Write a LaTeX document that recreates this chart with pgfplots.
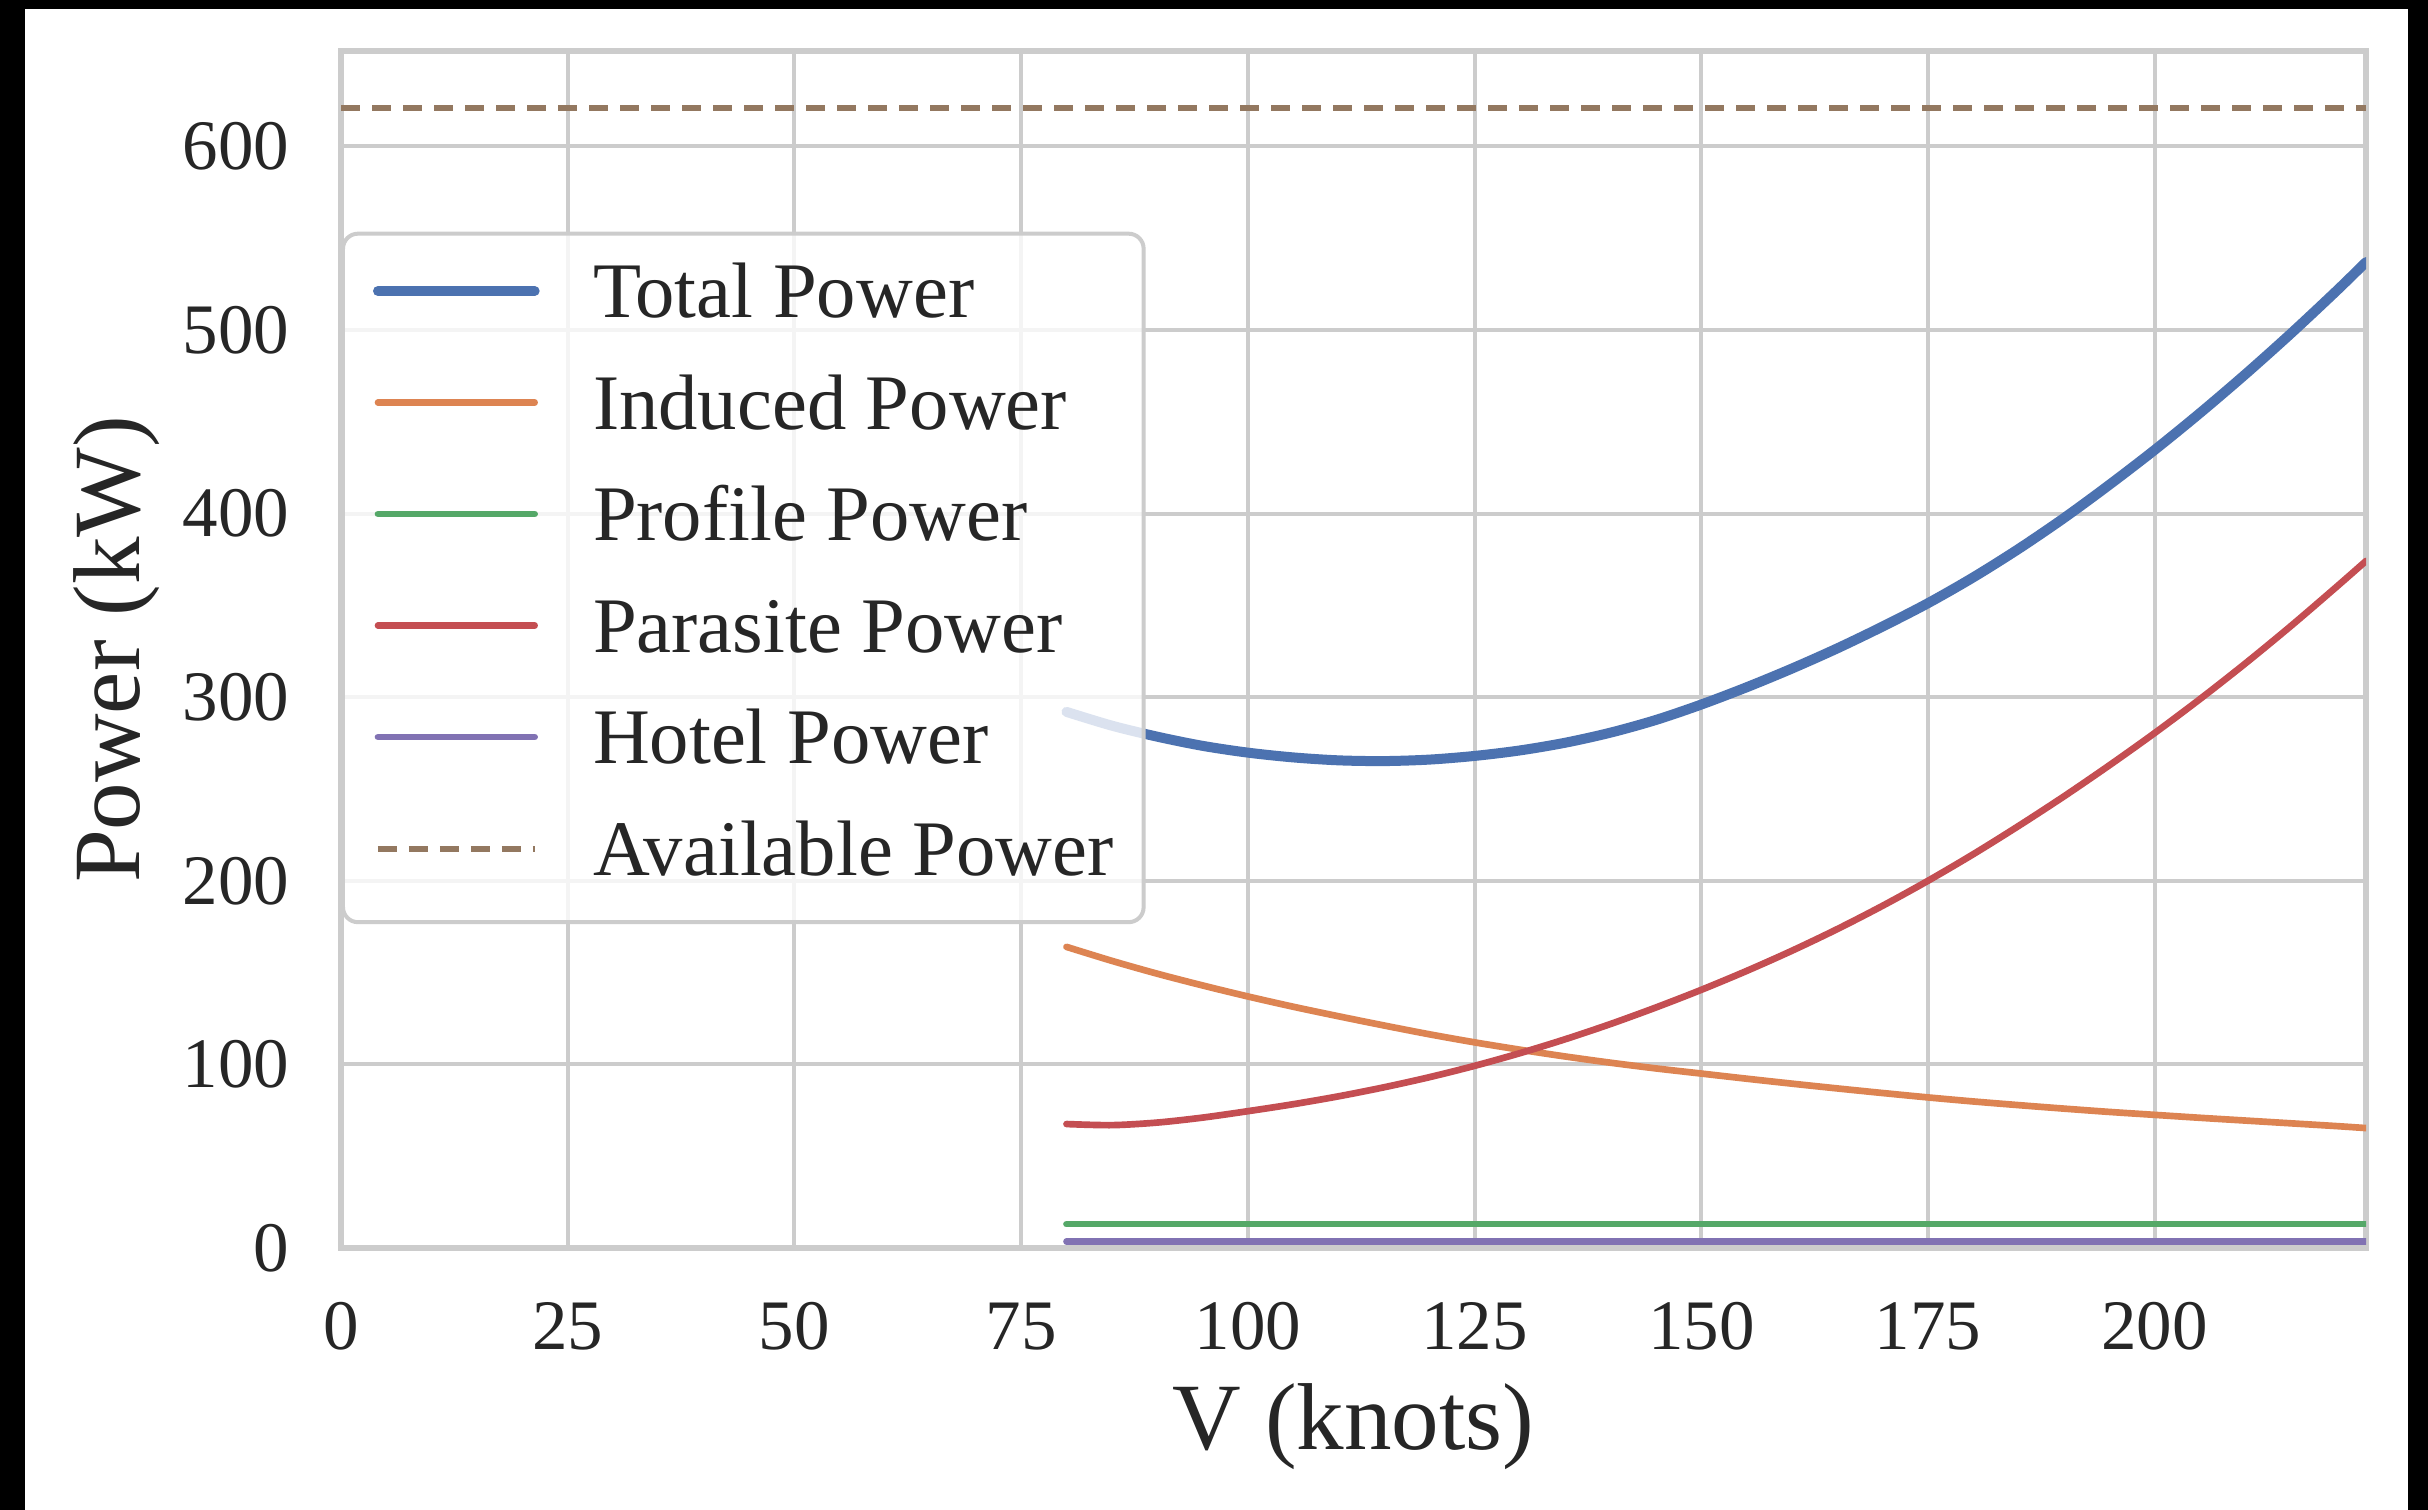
\documentclass[border=0pt]{standalone}
\usepackage{fontspec}
\setmainfont{Liberation Serif}
\usepackage{pgfplots}
\usepackage{pgfplotstable}
\pgfplotsset{compat=1.18}

\definecolor{sbblue}{HTML}{4C72B0}
\definecolor{sborange}{HTML}{DD8452}
\definecolor{sbgreen}{HTML}{55A868}
\definecolor{sbred}{HTML}{C44E52}
\definecolor{sbpurple}{HTML}{8172B3}
\definecolor{sbbrown}{HTML}{937860}
\definecolor{gridgray}{HTML}{CCCCCC}
\definecolor{labelgray}{HTML}{262626}

% power components (kW) against airspeed V (knots)
\pgfplotstableread{
V     total  induced profile parasite hotel
80    292.0  164.0   13      67.5     3.5
85    284.5  156.4   13      66.9     3.5
90    278.5  149.4   13      68.3     3.5
95    273.5  143.0   13      71.0     3.5
100   269.8  137.0   13      74.5     3.5
105   267.2  131.4   13      78.3     3.5
110   265.6  126.2   13      82.6     3.5
115   265.2  121.2   13      87.5     3.5
120   266.0  116.4   13      93.0     3.5
125   268.0  112.0   13      99.2     3.5
130   271.0  108.0   13      106.1    3.5
135   275.2  104.3   13      113.7    3.5
140   280.7  100.9   13      122.0    3.5
145   287.6  97.8    13      131.0    3.5
150   296.0  95.0    13      140.6    3.5
155   305.4  92.2    13      150.9    3.5
160   315.6  89.5    13      161.9    3.5
165   326.6  86.9    13      173.7    3.5
170   338.5  84.4    13      186.4    3.5
175   351.2  82.0    13      200.0    3.5
180   365.3  79.8    13      214.5    3.5
185   380.8  77.8    13      229.9    3.5
190   397.6  75.9    13      246.0    3.5
195   415.7  74.1    13      262.9    3.5
200   434.7  72.5    13      280.5    3.5
205   454.8  70.9    13      299.0    3.5
210   475.9  69.4    13      318.4    3.5
215   498.0  67.9    13      338.7    3.5
220   521.1  66.4    13      359.9    3.5
223.3 537.0  65.3    13      374.2    3.5
}\powertable

\begin{document}
\begin{tikzpicture}
\useasboundingbox (0pt,0pt) rectangle (364.2pt,226.5pt);
\fill[black] (0pt,0pt) rectangle (364.2pt,226.5pt);
\fill[white] (3.75pt,0pt) rectangle (361.2pt,225.15pt);
\begin{axis}[
    at={(51.15pt,39.3pt)}, anchor=south west,
    scale only axis,
    width=303.75pt, height=179.55pt,
    xmin=0, xmax=223.3,
    ymin=0, ymax=652,
    xtick={0,25,...,200},
    ytick={0,100,...,600},
    major tick length=0pt,
    grid=major,
    major grid style={draw=gridgray, line width=0.6pt},
    axis line style={draw=gridgray, line width=0.8pt},
    /pgf/number format/assume math mode=true,
    ticklabel style={font=\fontsize{10.65}{12}\selectfont, text=labelgray, inner sep=0pt},
    xticklabel style={anchor=north, yshift=-8pt},
    yticklabel style={anchor=east, xshift=-7.6pt},
    xlabel={V (knots)},
    ylabel={Power (kW)},
    every axis x label/.style={at={(axis description cs:0.5,-0.1495)}, anchor=center,
        font=\fontsize{14.25}{16}\selectfont, text=labelgray},
    every axis y label/.style={at={(axis description cs:-0.111,0.5)}, rotate=90, anchor=center,
        font=\fontsize{14.25}{16}\selectfont, text=labelgray},
    legend style={
        at={(0,0.849)}, anchor=north west,
        draw=gridgray, line width=0.6pt, rounded corners=2.25pt,
        fill=white, fill opacity=0.8, draw opacity=1, text opacity=1,
        font=\fontsize{11.8}{13}\selectfont, text=labelgray,
        inner xsep=4.5pt, inner ysep=3.75pt,
        row sep=4.575pt, column sep=8pt,
        cells={anchor=base west},
        nodes={inner sep=0pt, text height=8.85pt, text depth=3.3pt},
    },
    legend image code/.code={\draw[#1] (0pt,0.4em) -- (23.5pt,0.4em);},
    every axis plot/.append style={line cap=round, line join=round},
]
\addplot[draw=sbblue, line width=1.5pt, smooth] table[x=V, y=total] {\powertable};
\addlegendentry{Total Power}
\addplot[draw=sborange, line width=1pt, smooth] table[x=V, y=induced] {\powertable};
\addlegendentry{Induced Power}
\addplot[draw=sbgreen, line width=1pt] table[x=V, y=profile] {\powertable};
\addlegendentry{Profile Power}
\addplot[draw=sbred, line width=1pt, smooth] table[x=V, y=parasite] {\powertable};
\addlegendentry{Parasite Power}
\addplot[draw=sbpurple, line width=1pt] table[x=V, y=hotel] {\powertable};
\addlegendentry{Hotel Power}
\addplot[draw=sbbrown, line width=0.9pt, line cap=butt, dash pattern=on 2.85pt off 1.8pt]
    coordinates {(0,621) (223.3,621)};
\addlegendentry{Available Power}
\end{axis}
\end{tikzpicture}
\end{document}
